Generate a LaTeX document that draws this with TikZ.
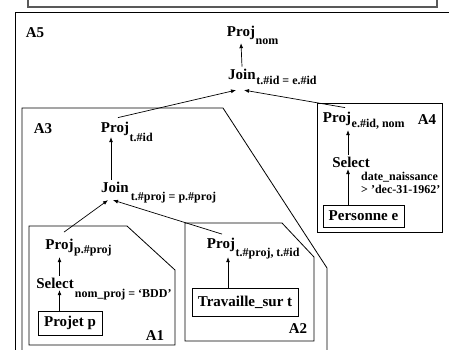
\documentclass[tikz,border=0pt]{standalone}
\usepackage{fontspec}
\setmainfont{Liberation Serif}
\usetikzlibrary{arrows.meta}
\newcommand\mainfnt{\fontsize{15}{17}\selectfont\bfseries}
\newcommand\subfnt{\fontsize{12}{14}\selectfont\bfseries}
\tikzset{
  txt/.style={font=\mainfnt, inner sep=0pt, outer sep=2pt, anchor=base},
  subt/.style={font=\subfnt, inner sep=0pt, anchor=base west},
  rel/.style={draw, line width=0.9pt, font=\mainfnt, inner sep=0pt},
  arr/.style={-{Latex[length=5pt,width=4pt]}, line width=0.7pt},
  frame/.style={line width=0.8pt}
}
\begin{document}
\begin{tikzpicture}[x=1pt,y=-1pt]
\useasboundingbox (0,0) rectangle (449,349);
% frames
\draw[line width=1.2pt, gray!70!black] (28,-5) rectangle (437,7);
\draw[frame] (15,360) -- (15,12) -- (460,12);
\draw[frame] (22,360) -- (22,108) -- (223,108) -- (327,268) -- (327,360);
\draw[frame] (29,226) -- (127,226) -- (175,270) -- (175,345) -- (29,345) -- cycle;
\draw[frame] (185,223) -- (282,223) -- (314,257) -- (314,341) -- (185,341) -- cycle;
\draw[frame] (317,103) rectangle (442,232);
% labels
\node[txt] (a5) at (35,37) {A5};
\node[txt] (a3) at (43,133) {A3};
\node[txt] (a1) at (155,340) {A1};
\node[txt] (a2) at (298,333) {A2};
\node[txt] (a4) at (427,124) {A4};
% top
\node[txt] (p5) at (241,36) {Proj};
\node[subt] (p5s) at ([xshift=-1.5pt,yshift=-8pt]p5.base east) {nom};
\node[txt] (j5) at (242,79) {Join};
\node[subt] (j5s) at ([xshift=-1.5pt,yshift=-5pt]j5.base east) {t.\#id = e.\#id};
% A3
\node[txt] (p3) at (115,132) {Proj};
\node[subt] (p3s) at ([xshift=-1.5pt,yshift=-9pt]p3.base east) {t.\#id};
\node[txt] (j3) at (115,192) {Join};
\node[subt] (j3s) at ([xshift=0pt,yshift=-8pt]j3.base east) {t.\#proj = p.\#proj};
% A1
\node[txt] (p1) at (59.5,249) {Proj};
\node[subt] (p1s) at ([xshift=-1.5pt,yshift=-4pt]p1.base east) {p.\#proj};
\node[txt] (s1) at (55,288) {Select};
\node[subt] (s1s) at ([xshift=-1pt,yshift=-9pt]s1.base east) {nom\_proj = ‘BDD’};
\node[rel, minimum width=64pt, minimum height=24pt] (b1) at (70,323) {Projet p};
% A2
\node[txt] (p2) at (221,248) {Proj};
\node[subt] (p2s) at ([xshift=-1.5pt,yshift=-8pt]p2.base east) {t.\#proj, t.\#id};
\node[rel, minimum width=106pt, minimum height=28pt] (t2) at (245,302) {Travaille\_sur t};
% A4
\node[txt] (p4) at (337,122) {Proj};
\node[subt] (p4s) at ([xshift=-1.5pt,yshift=-5pt]p4.base east) {e.\#id, nom};
\node[txt] (s4) at (351,167) {Select};
\node[subt] (s4a) at (361,180) {date\_naissance};
\node[subt] (s4b) at (361,193) {> ’dec-31-1962’};
\node[rel, minimum width=81pt, minimum height=22pt] (b4) at (363.5,216) {Personne e};
% arrows
\draw[arr] (j5.north) -- ([yshift=-2pt]p5.south);
\draw[arr] ([xshift=3pt,yshift=2pt]p3.north) -- ([xshift=-6pt,yshift=-9pt]j5.south);
\draw[arr] ([xshift=8pt,yshift=2pt]p4.north) -- ([xshift=2pt,yshift=-9pt]j5.south);
\draw[arr] ([xshift=-4pt]j3.north) -- ([xshift=-4pt]p3.south);
\draw[arr] ([xshift=4.5pt,yshift=4.5pt]p1.north) -- ([xshift=-7pt,yshift=-6pt]j3.south);
\draw[arr] ([xshift=1pt,yshift=1.5pt]p2.north) -- ([xshift=-2pt,yshift=-6pt]j3.south);
\draw[arr] (s1.north -| p1.south) -- ([yshift=-3pt]p1.south);
\draw[arr] (b1.north -| p1.south) -- (p1.south |- s1.south);
\draw[arr] ([xshift=7pt]p2.south |- t2.north) -- ([xshift=7pt,yshift=-4pt]p2.south);
\draw[arr] ([xshift=11pt]p4.south |- s4.north) -- ([xshift=11pt,yshift=-3pt]p4.south);
\draw[arr] ([xshift=11pt]p4.south |- b4.north) -- ([xshift=11pt]p4.south |- s4.south);
\end{tikzpicture}
\end{document}
